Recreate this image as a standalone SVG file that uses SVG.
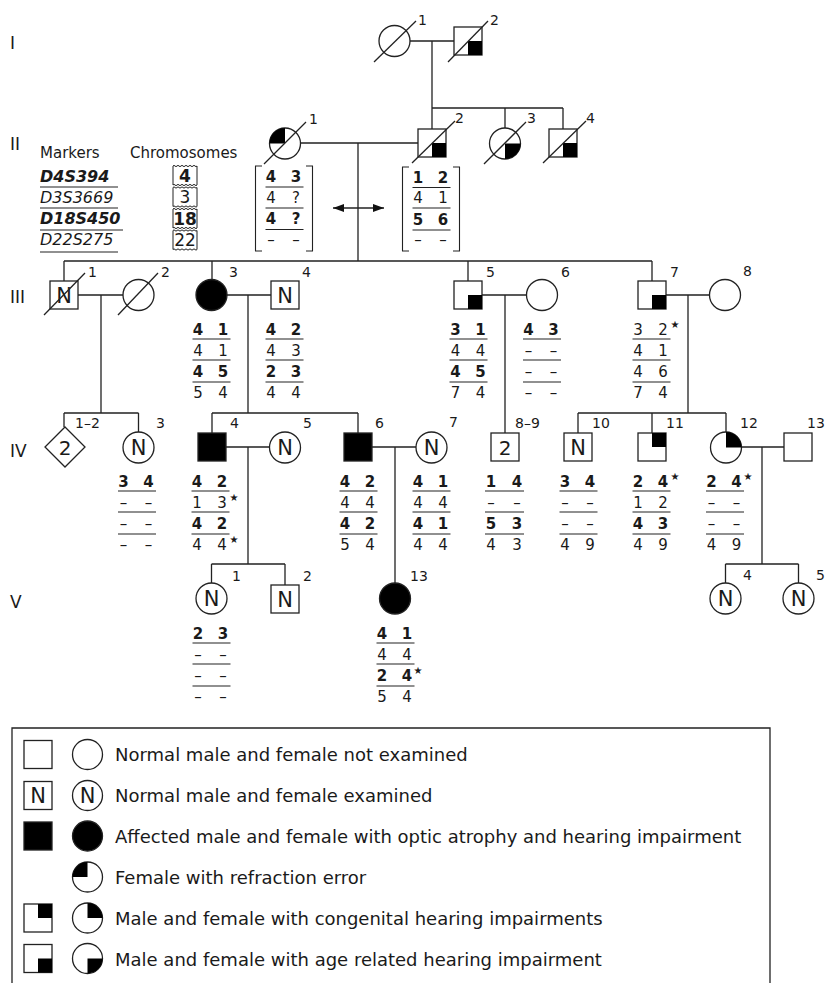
<svg xmlns="http://www.w3.org/2000/svg" width="826" height="983" viewBox="0 0 826 983">
<style>
.ln{stroke:#222;stroke-width:1.3;fill:none}
.sym{fill:#fff;stroke:#222;stroke-width:1.3}
.blk{fill:#000;stroke:none}
.ul{stroke:#222;stroke-width:1.1}
.t{font-family:"DejaVu Sans",sans-serif;fill:#1a1a1a}
.h{font-size:15px;text-anchor:middle}
.b{font-weight:bold}
.lab{font-size:14px}
.n{font-size:21px;text-anchor:middle}
.g{font-size:17px}
.lg{font-size:18px}
.mk{font-size:16px;font-style:italic}
.st{font-size:10px}
</style>
<defs>
<marker id="ah" markerUnits="userSpaceOnUse" markerWidth="11" markerHeight="8" viewBox="0 0 11 8" refX="11" refY="4" orient="auto-start-reverse"><path d="M0,0 L11,4 L0,8 z" fill="#111"/></marker>
</defs>
<rect width="826" height="983" fill="#fff"/>

<g id="generation-labels" class="t g">
<text x="10" y="49">I</text>
<text x="10" y="150">II</text>
<text x="10" y="303">III</text>
<text x="10" y="457">IV</text>
<text x="10" y="608">V</text>
</g>

<g id="connectors" class="ln">
<path d="M410,41 H454 M432,41 V129 M432,108 H563 M505,108 V128 M563,108 V129"/>
<path d="M300.5,143 H418 M358,143 V261 M64,261 H652 M64,261 V281 M212,261 V279.5 M468,261 V281 M652,261 V281"/>
<path d="M333,208 H384" marker-start="url(#ah)" marker-end="url(#ah)"/>
<path d="M78,295 H123 M101,295 V413 M64,413 H138.5 M64,413 V427 M138.5,413 V432"/>
<path d="M227,295 H271 M248,295 V413 M212,413 H358 M212,413 V433 M358,413 V433"/>
<path d="M482,295 H526.5 M505,295 V433"/>
<path d="M666,295 H709.5 M688,295 V413 M578,413 H726 M578,413 V433 M652,413 V433 M726,413 V432"/>
<path d="M226,447 H269.5 M248,447 V564 M211.5,564 H285 M211.5,564 V583 M285,564 V585"/>
<path d="M372,447 H416 M395,447 V583"/>
<path d="M741.5,447 H784 M762,447 V564 M725.5,564 H798.5 M725.5,564 V583 M798.5,564 V583"/>
</g>

<g id="I-1"><circle class="sym" cx="394.5" cy="41" r="15.5"/><line class="ln" x1="374" y1="62" x2="416" y2="21"/><text class="t lab" x="418" y="25">1</text></g>
<g id="I-2"><rect class="sym" x="454" y="27" width="28" height="28"/><rect class="blk" x="468" y="41" width="14" height="14"/><line class="ln" x1="448" y1="62" x2="488" y2="21"/><text class="t lab" x="490" y="25">2</text></g>

<g id="II-1"><circle class="sym" cx="285" cy="143.5" r="15.5"/><path class="blk" d="M285,143.5 V128 A15.5,15.5 0 0 0 269.5,143.5 Z"/><line class="ln" x1="264" y1="164" x2="306" y2="122"/><text class="t lab" x="309" y="124">1</text></g>
<g id="II-2"><rect class="sym" x="418" y="129" width="28" height="28"/><rect class="blk" x="432" y="143" width="14" height="14"/><line class="ln" x1="412" y1="163" x2="455" y2="121"/><text class="t lab" x="455" y="123">2</text></g>
<g id="II-3"><circle class="sym" cx="505" cy="143.5" r="15.5"/><path class="blk" d="M505,143.5 H520.5 A15.5,15.5 0 0 1 505,159 Z"/><line class="ln" x1="484" y1="164" x2="526" y2="122"/><text class="t lab" x="527" y="123">3</text></g>
<g id="II-4"><rect class="sym" x="549" y="129" width="28" height="28"/><rect class="blk" x="563" y="143" width="14" height="14"/><line class="ln" x1="543" y1="163" x2="586" y2="121"/><text class="t lab" x="586" y="123">4</text></g>

<g id="markers" class="t">
<text x="40" y="158" style="font-size:15px">Markers</text>
<text x="130" y="158" style="font-size:15px">Chromosomes</text>
<text class="mk b" x="40" y="182">D4S394</text>
<text class="mk" x="40" y="203">D3S3669</text>
<text class="mk b" x="40" y="224">D18S450</text>
<text class="mk" x="40" y="245">D22S275</text>
<path class="ul" d="M40,187 H118 M40,208 H118 M40,230 H123 M40,252 H118"/>
<g class="ln" style="stroke-width:1">
<path d="M173,166 q1,-1.3 2,0 t2,0 t2,0 t2,0 t2,0 t2,0 t2,0 t2,0 t2,0 t2,0 t2,0 t2,0 V185 q-1,1.3 -2,0 t-2,0 t-2,0 t-2,0 t-2,0 t-2,0 t-2,0 t-2,0 t-2,0 t-2,0 t-2,0 t-2,0 Z"/>
<path d="M173,187.5 q1,-1.3 2,0 t2,0 t2,0 t2,0 t2,0 t2,0 t2,0 t2,0 t2,0 t2,0 t2,0 t2,0 V206.5 q-1,1.3 -2,0 t-2,0 t-2,0 t-2,0 t-2,0 t-2,0 t-2,0 t-2,0 t-2,0 t-2,0 t-2,0 t-2,0 Z"/>
<path d="M173,209 q1,-1.3 2,0 t2,0 t2,0 t2,0 t2,0 t2,0 t2,0 t2,0 t2,0 t2,0 t2,0 t2,0 V228 q-1,1.3 -2,0 t-2,0 t-2,0 t-2,0 t-2,0 t-2,0 t-2,0 t-2,0 t-2,0 t-2,0 t-2,0 t-2,0 Z"/>
<path d="M173,230.5 q1,-1.3 2,0 t2,0 t2,0 t2,0 t2,0 t2,0 t2,0 t2,0 t2,0 t2,0 t2,0 t2,0 V249.5 q-1,1.3 -2,0 t-2,0 t-2,0 t-2,0 t-2,0 t-2,0 t-2,0 t-2,0 t-2,0 t-2,0 t-2,0 t-2,0 Z"/>
</g>
<text class="b" x="185" y="182" style="font-size:17px;text-anchor:middle">4</text>
<text x="185" y="203" style="font-size:17px;text-anchor:middle">3</text>
<text class="b" x="185" y="225" style="font-size:17px;text-anchor:middle">18</text>
<text x="185" y="246" style="font-size:17px;text-anchor:middle">22</text>
</g>

<g id="hap-II-1" class="t h">
<path class="ln" style="stroke-width:1.1" d="M262,166 H255.5 V251 H262 M306,166 H312.5 V251 H306"/>
<text class="b" y="182"><tspan x="271">4</tspan><tspan x="296">3</tspan></text>
<text y="203"><tspan x="271">4</tspan><tspan x="296">?</tspan></text>
<text class="b" y="224"><tspan x="271">4</tspan><tspan x="296">?</tspan></text>
<text y="245"><tspan x="271">–</tspan><tspan x="296">–</tspan></text>
<path class="ul" d="M265.5,187 H303.5 M265.5,208 H303.5 M265.5,229.5 H303.5"/>
</g>
<g id="hap-II-2" class="t h">
<path class="ln" style="stroke-width:1.1" d="M409,167 H402.5 V251 H409 M453,167 H459.5 V251 H453"/>
<text class="b" y="183"><tspan x="418">1</tspan><tspan x="443">2</tspan></text>
<text y="203"><tspan x="418">4</tspan><tspan x="443">1</tspan></text>
<text class="b" y="225"><tspan x="418">5</tspan><tspan x="443">6</tspan></text>
<text y="245"><tspan x="418">–</tspan><tspan x="443">–</tspan></text>
<path class="ul" d="M412.5,187.5 H450.5 M412.5,208 H450.5 M412.5,230 H450.5"/>
</g>

<g id="III-1"><rect class="sym" x="50" y="281" width="28" height="28"/><text class="t n" x="64" y="302.5">N</text><line class="ln" x1="44" y1="315" x2="85" y2="273"/><text class="t lab" x="88" y="277">1</text></g>
<g id="III-2"><circle class="sym" cx="138.5" cy="295" r="15.5"/><line class="ln" x1="118" y1="315" x2="158" y2="273"/><text class="t lab" x="161" y="277">2</text></g>
<g id="III-3"><circle cx="211.5" cy="295" r="15.5" fill="#000" stroke="#222" stroke-width="1.3"/><text class="t lab" x="229" y="277">3</text></g>
<g id="III-4"><rect class="sym" x="271" y="281" width="28" height="28"/><text class="t n" x="285" y="302.5">N</text><text class="t lab" x="302" y="277">4</text></g>
<g id="III-5"><rect class="sym" x="454" y="281" width="28" height="28"/><rect class="blk" x="468" y="295" width="14" height="14"/><text class="t lab" x="486" y="277">5</text></g>
<g id="III-6"><circle class="sym" cx="542" cy="295" r="15.5"/><text class="t lab" x="561" y="277">6</text></g>
<g id="III-7"><rect class="sym" x="638" y="281" width="28" height="28"/><rect class="blk" x="652" y="295" width="14" height="14"/><text class="t lab" x="670" y="277">7</text></g>
<g id="III-8"><circle class="sym" cx="725" cy="295" r="15.5"/><text class="t lab" x="743" y="276">8</text></g>

<g id="hap-III-3" class="t h">
<text class="b" y="335"><tspan x="198">4</tspan><tspan x="223">1</tspan></text>
<text y="356"><tspan x="198">4</tspan><tspan x="223">1</tspan></text>
<text class="b" y="377"><tspan x="198">4</tspan><tspan x="223">5</tspan></text>
<text y="398"><tspan x="198">5</tspan><tspan x="223">4</tspan></text>
<path class="ul" d="M192.5,339 H230.5 M192.5,360 H230.5 M192.5,382 H230.5"/>
</g>
<g id="hap-III-4" class="t h">
<text class="b" y="335"><tspan x="271">4</tspan><tspan x="296">2</tspan></text>
<text y="356"><tspan x="271">4</tspan><tspan x="296">3</tspan></text>
<text class="b" y="377"><tspan x="271">2</tspan><tspan x="296">3</tspan></text>
<text y="398"><tspan x="271">4</tspan><tspan x="296">4</tspan></text>
<path class="ul" d="M265.5,339 H303.5 M265.5,360 H303.5 M265.5,382 H303.5"/>
</g>
<g id="hap-III-5" class="t h">
<text class="b" y="335"><tspan x="455.5">3</tspan><tspan x="480.5">1</tspan></text>
<text y="356"><tspan x="455.5">4</tspan><tspan x="480.5">4</tspan></text>
<text class="b" y="377"><tspan x="455.5">4</tspan><tspan x="480.5">5</tspan></text>
<text y="398"><tspan x="455.5">7</tspan><tspan x="480.5">4</tspan></text>
<path class="ul" d="M449.5,339 H487.5 M449.5,360 H487.5 M449.5,382 H487.5"/>
</g>
<g id="hap-III-6" class="t h">
<text class="b" y="335"><tspan x="528.5">4</tspan><tspan x="553.5">3</tspan></text>
<text y="356"><tspan x="528.5">–</tspan><tspan x="553.5">–</tspan></text>
<text y="377"><tspan x="528.5">–</tspan><tspan x="553.5">–</tspan></text>
<text y="398"><tspan x="528.5">–</tspan><tspan x="553.5">–</tspan></text>
<path class="ul" d="M523,339 H561 M523,360 H561 M523,382 H561"/>
</g>
<g id="hap-III-7" class="t h">
<text y="335"><tspan x="638">3</tspan><tspan x="663">2</tspan></text>
<text class="st" x="675" y="328">★</text>
<text y="356"><tspan x="638">4</tspan><tspan x="663">1</tspan></text>
<text y="377"><tspan x="638">4</tspan><tspan x="663">6</tspan></text>
<text y="398"><tspan x="638">7</tspan><tspan x="663">4</tspan></text>
<path class="ul" d="M632.5,339 H670.5 M632.5,360 H670.5 M632.5,382 H670.5"/>
</g>

<g id="IV-1-2"><path class="sym" d="M65,427 L85,447 L65,467 L45,447 Z"/><text class="t n" x="65" y="455" style="font-size:20px">2</text><text class="t lab" x="75" y="428">1–2</text></g>
<g id="IV-3"><circle class="sym" cx="138.5" cy="447.5" r="15.5"/><text class="t n" x="138.5" y="455">N</text><text class="t lab" x="156" y="428">3</text></g>
<g id="IV-4"><rect x="198" y="433" width="28" height="28" fill="#000" stroke="#222" stroke-width="1.3"/><text class="t lab" x="230" y="428">4</text></g>
<g id="IV-5"><circle class="sym" cx="285" cy="447.5" r="15.5"/><text class="t n" x="285" y="455">N</text><text class="t lab" x="303" y="428">5</text></g>
<g id="IV-6"><rect x="344" y="433" width="28" height="28" fill="#000" stroke="#222" stroke-width="1.3"/><text class="t lab" x="375" y="428">6</text></g>
<g id="IV-7"><circle class="sym" cx="431.5" cy="447.5" r="15.5"/><text class="t n" x="431.5" y="455">N</text><text class="t lab" x="449" y="427">7</text></g>
<g id="IV-8-9"><rect class="sym" x="491" y="433" width="28" height="28"/><text class="t n" x="505" y="454.5" style="font-size:20px">2</text><text class="t lab" x="515" y="428">8–9</text></g>
<g id="IV-10"><rect class="sym" x="564" y="433" width="28" height="28"/><text class="t n" x="578" y="454.5">N</text><text class="t lab" x="592" y="428">10</text></g>
<g id="IV-11"><rect class="sym" x="638" y="433" width="28" height="28"/><rect class="blk" x="652" y="433" width="14" height="14"/><text class="t lab" x="666" y="428">11</text></g>
<g id="IV-12"><circle class="sym" cx="726" cy="447.5" r="15.5"/><path class="blk" d="M726,447.5 V432 A15.5,15.5 0 0 1 741.5,447.5 Z"/><text class="t lab" x="740" y="428">12</text></g>
<g id="IV-13"><rect class="sym" x="784" y="433" width="28" height="28"/><text class="t lab" x="807" y="428">13</text></g>

<g id="hap-IV-3" class="t h">
<text class="b" y="487"><tspan x="123.5">3</tspan><tspan x="148.5">4</tspan></text>
<text y="508"><tspan x="123.5">–</tspan><tspan x="148.5">–</tspan></text>
<text y="529"><tspan x="123.5">–</tspan><tspan x="148.5">–</tspan></text>
<text y="550"><tspan x="123.5">–</tspan><tspan x="148.5">–</tspan></text>
<path class="ul" d="M118,491 H156 M118,512 H156 M118,534 H156"/>
</g>
<g id="hap-IV-4" class="t h">
<text class="b" y="487"><tspan x="197">4</tspan><tspan x="222">2</tspan></text>
<text y="508"><tspan x="197">1</tspan><tspan x="222">3</tspan></text>
<text class="st" x="234" y="501">★</text>
<text class="b" y="529"><tspan x="197">4</tspan><tspan x="222">2</tspan></text>
<text y="550"><tspan x="197">4</tspan><tspan x="222">4</tspan></text>
<text class="st" x="234" y="543">★</text>
<path class="ul" d="M191.5,491 H229.5 M191.5,512 H229.5 M191.5,534 H229.5"/>
</g>
<g id="hap-IV-6" class="t h">
<text class="b" y="487"><tspan x="345">4</tspan><tspan x="370">2</tspan></text>
<text y="508"><tspan x="345">4</tspan><tspan x="370">4</tspan></text>
<text class="b" y="529"><tspan x="345">4</tspan><tspan x="370">2</tspan></text>
<text y="550"><tspan x="345">5</tspan><tspan x="370">4</tspan></text>
<path class="ul" d="M339.5,491 H377.5 M339.5,512 H377.5 M339.5,534 H377.5"/>
</g>
<g id="hap-IV-7" class="t h">
<text class="b" y="487"><tspan x="418">4</tspan><tspan x="443">1</tspan></text>
<text y="508"><tspan x="418">4</tspan><tspan x="443">4</tspan></text>
<text class="b" y="529"><tspan x="418">4</tspan><tspan x="443">1</tspan></text>
<text y="550"><tspan x="418">4</tspan><tspan x="443">4</tspan></text>
<path class="ul" d="M412.5,491 H450.5 M412.5,512 H450.5 M412.5,534 H450.5"/>
</g>
<g id="hap-IV-8-9" class="t h">
<text class="b" y="487"><tspan x="491">1</tspan><tspan x="517">4</tspan></text>
<text y="508"><tspan x="491">–</tspan><tspan x="517">–</tspan></text>
<text class="b" y="529"><tspan x="491">5</tspan><tspan x="517">3</tspan></text>
<text y="550"><tspan x="491">4</tspan><tspan x="517">3</tspan></text>
<path class="ul" d="M485,491 H524 M485,512 H524 M485,534 H524"/>
</g>
<g id="hap-IV-10" class="t h">
<text class="b" y="487"><tspan x="565">3</tspan><tspan x="590">4</tspan></text>
<text y="508"><tspan x="565">–</tspan><tspan x="590">–</tspan></text>
<text y="529"><tspan x="565">–</tspan><tspan x="590">–</tspan></text>
<text y="550"><tspan x="565">4</tspan><tspan x="590">9</tspan></text>
<path class="ul" d="M559.5,491 H597.5 M559.5,512 H597.5 M559.5,534 H597.5"/>
</g>
<g id="hap-IV-11" class="t h">
<text class="b" y="487"><tspan x="638">2</tspan><tspan x="663">4</tspan></text>
<text class="st" x="675" y="480">★</text>
<text y="508"><tspan x="638">1</tspan><tspan x="663">2</tspan></text>
<text class="b" y="529"><tspan x="638">4</tspan><tspan x="663">3</tspan></text>
<text y="550"><tspan x="638">4</tspan><tspan x="663">9</tspan></text>
<path class="ul" d="M632.5,491 H670.5 M632.5,512 H670.5 M632.5,534 H670.5"/>
</g>
<g id="hap-IV-12" class="t h">
<text class="b" y="487"><tspan x="711.5">2</tspan><tspan x="736.5">4</tspan></text>
<text class="st" x="748" y="480">★</text>
<text y="508"><tspan x="711.5">–</tspan><tspan x="736.5">–</tspan></text>
<text y="529"><tspan x="711.5">–</tspan><tspan x="736.5">–</tspan></text>
<text y="550"><tspan x="711.5">4</tspan><tspan x="736.5">9</tspan></text>
<path class="ul" d="M706,491 H744 M706,512 H744 M706,534 H744"/>
</g>

<g id="V-1"><circle class="sym" cx="211.5" cy="598.5" r="15.5"/><text class="t n" x="211.5" y="606">N</text><text class="t lab" x="232" y="581">1</text></g>
<g id="V-2"><rect class="sym" x="271" y="585" width="28" height="28"/><text class="t n" x="285" y="606.5">N</text><text class="t lab" x="303" y="581">2</text></g>
<g id="V-13"><circle cx="395" cy="598.5" r="15.5" fill="#000" stroke="#222" stroke-width="1.3"/><text class="t lab" x="410" y="581">13</text></g>
<g id="V-4"><circle class="sym" cx="725.5" cy="598.5" r="15.5"/><text class="t n" x="725.5" y="606">N</text><text class="t lab" x="743" y="580">4</text></g>
<g id="V-5"><circle class="sym" cx="798.5" cy="598.5" r="15.5"/><text class="t n" x="798.5" y="606">N</text><text class="t lab" x="816" y="580">5</text></g>

<g id="hap-V-1" class="t h">
<text class="b" y="639"><tspan x="198">2</tspan><tspan x="223">3</tspan></text>
<text y="660"><tspan x="198">–</tspan><tspan x="223">–</tspan></text>
<text y="681"><tspan x="198">–</tspan><tspan x="223">–</tspan></text>
<text y="702"><tspan x="198">–</tspan><tspan x="223">–</tspan></text>
<path class="ul" d="M192.5,643 H230.5 M192.5,664 H230.5 M192.5,686 H230.5"/>
</g>
<g id="hap-V-13" class="t h">
<text class="b" y="639"><tspan x="382">4</tspan><tspan x="407">1</tspan></text>
<text y="660"><tspan x="382">4</tspan><tspan x="407">4</tspan></text>
<text class="b" y="681"><tspan x="382">2</tspan><tspan x="407">4</tspan></text>
<text class="st" x="418" y="674">★</text>
<text y="702"><tspan x="382">5</tspan><tspan x="407">4</tspan></text>
<path class="ul" d="M376.5,643 H414.5 M376.5,664 H414.5 M376.5,686 H414.5"/>
</g>

<g id="legend">
<path class="ln" d="M12,990 V728 H770 V990"/>
<rect class="sym" x="24" y="740.5" width="28" height="28"/><circle class="sym" cx="87.5" cy="754.5" r="15"/>
<text class="t lg" x="115" y="761">Normal male and female not examined</text>
<rect class="sym" x="24" y="781.5" width="28" height="28"/><circle class="sym" cx="87.5" cy="795.5" r="15"/>
<text class="t n" x="38" y="803">N</text><text class="t n" x="87.5" y="803">N</text>
<text class="t lg" x="115" y="802">Normal male and female examined</text>
<rect x="24" y="822" width="28" height="28" fill="#000" stroke="#222" stroke-width="1.3"/><circle cx="87.5" cy="836" r="15" fill="#000" stroke="#222" stroke-width="1.3"/>
<text class="t lg" x="115" y="843">Affected male and female with optic atrophy and hearing impairment</text>
<circle class="sym" cx="87.5" cy="877" r="15"/><path class="blk" d="M87.5,877 V862 A15,15 0 0 0 72.5,877 Z"/>
<text class="t lg" x="115" y="884">Female with refraction error</text>
<rect class="sym" x="24" y="904" width="28" height="28"/><rect class="blk" x="38" y="904" width="14" height="14"/>
<circle class="sym" cx="87.5" cy="918" r="15"/><path class="blk" d="M87.5,918 V903 A15,15 0 0 1 102.5,918 Z"/>
<text class="t lg" x="115" y="925">Male and female with congenital hearing impairments</text>
<rect class="sym" x="24" y="944.5" width="28" height="28"/><rect class="blk" x="38" y="958.5" width="14" height="14"/>
<circle class="sym" cx="87.5" cy="958.5" r="15"/><path class="blk" d="M87.5,958.5 H102.5 A15,15 0 0 1 87.5,973.5 Z"/>
<text class="t lg" x="115" y="965.5">Male and female with age related hearing impairment</text>
</g>
</svg>
